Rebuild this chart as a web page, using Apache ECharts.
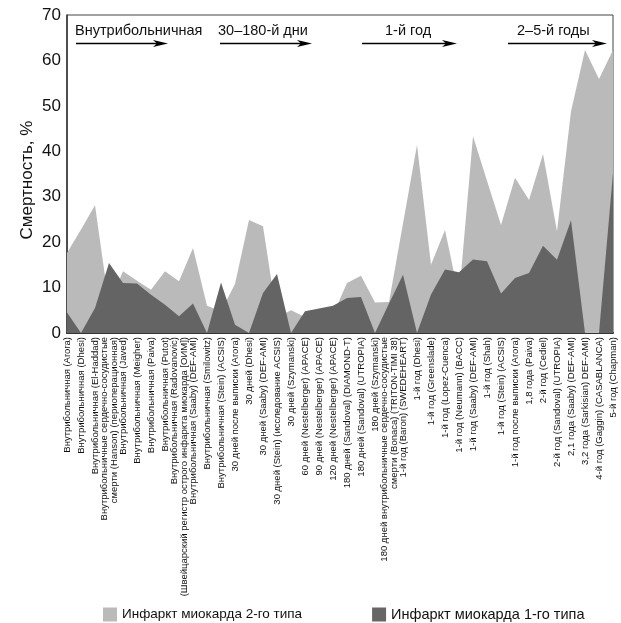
<!DOCTYPE html>
<html>
<head>
<meta charset="utf-8">
<script src="https://cdn.jsdelivr.net/npm/echarts@6/dist/echarts.min.js"></script>
<style>
html,body{margin:0;padding:0;background:#fff;}
#chart{width:621px;height:623px;}
</style>
</head>
<body>
<div id="chart"></div>
<script>
const categories = [
  "Внутрибольничная (Arora)",
  "Внутрибольничная (Dhesi)",
  "Внутрибольничная (El-Haddad)",
  "Внутрибольничные сердечно-сосудистые\nсмерти (Hanson) (периоперационная)",
  "Внутрибольничная (Javed)",
  "Внутрибольничная (Meigher)",
  "Внутрибольничная (Paiva)",
  "Внутрибольничная (Putot)",
  "Внутрибольничная (Radovanovic)\n(Швейцарский регистр острого инфаркта миокарда [ОИМ])",
  "Внутрибольничная (Saaby) (DEF-AMI)",
  "Внутрибольничная (Smilowitz)",
  "Внутрибольничная (Stein) (ACSIS)",
  "30 дней после выписки (Arora)",
  "30 дней (Dhesi)",
  "30 дней (Saaby) (DEF-AMI)",
  "30 дней (Stein) (исследование ACSIS)",
  "30 дней (Szymanski)",
  "60 дней (Nestelberger) (APACE)",
  "90 дней (Nestelberger) (APACE)",
  "120 дней (Nestelberger) (APACE)",
  "180 дней (Sandoval) (DIAMOND-T)",
  "180 дней (Sandoval) (UTROPIA)",
  "180 дней (Szymanski)",
  "180 дней внутрибольничные сердечно-сосудистые\nсмерти (Bonaca) (TRITON-TIMI 38)",
  "1-й год (Baron) (SWEDEHEART)",
  "1-й год (Dhesi)",
  "1-й год (Greenslade)",
  "1-й год (Lopez-Cuenca)",
  "1-й год (Neumann) (BACC)",
  "1-й год (Saaby) (DEF-AMI)",
  "1-й год (Shah)",
  "1-й год (Stein) (ACSIS)",
  "1-й год после выписки (Arora)",
  "1,8 года (Paiva)",
  "2-й год (Cediel)",
  "2-й год (Sandoval) (UTROPIA)",
  "2,1 года (Saaby) (DEF-AMI)",
  "3,2 года (Sarkisian) DEF-AMI)",
  "4-й год (Gaggin) (CASABLANCA)",
  "5-й год (Chapman)"
];

const type2Values = [17.6, 22.8, 28.1, 6.2, 13.6, 11.5, 9.5, 13.6, 11.4, 18.7,
  6.0, 4.8, 10.8, 24.9, 23.5, 3.4, 5.0, 3.5, 4.0, 4.0,
  11.0, 12.6, 6.7, 6.8, 24.1, 41.4, 15.0, 22.7, 8.0, 43.3,
  33.5, 23.8, 34.2, 29.3, 39.4, 22.4, 48.8, 62.3, 55.9, 62.3];

const type1Values = [4.5, 0, 5.5, 15.4, 11.0, 10.9, 8.4, 6.2, 3.7, 6.5,
  0, 11.1, 1.8, 0, 8.8, 13.0, 0, 4.8, 5.4, 6.0,
  7.7, 7.9, 0, 6.5, 12.8, 0, 8.5, 14.0, 13.4, 16.2,
  15.8, 8.7, 12.1, 13.2, 19.2, 16.1, 24.8, 0, 0, 35.2];

const seriesNames = ["Инфаркт миокарда 2-го типа", "Инфаркт миокарда 1-го типа"];
const yTicks = {min: 0, max: 70, interval: 10};
const yAxisTitle = "Смертность, %";
const periodLabels = ["Внутрибольничная", "30–180-й дни", "1-й год", "2–5-й годы"];

const FONT = "'Liberation Sans', Arial, Helvetica, sans-serif";

// annotation layout (pixels)
const periodText = [{x: 75, y: 31}, {x: 218, y: 31}, {x: 385, y: 31}, {x: 517, y: 31}];
const periodArrow = [[76, 168], [220, 312], [362, 457], [508, 607]];
const ARROW_Y = 43.5;

const graphics = [];
periodLabels.forEach((t, i) => {
  graphics.push({
    type: 'text', z: 100,
    style: {text: t, x: periodText[i].x, y: periodText[i].y, font: '14.5px ' + FONT, fill: '#111', verticalAlign: 'middle'}
  });
  const x1 = periodArrow[i][0], x2 = periodArrow[i][1];
  graphics.push({
    type: 'line', z: 100,
    shape: {x1: x1, y1: ARROW_Y, x2: x2 - 8, y2: ARROW_Y},
    style: {stroke: '#000', lineWidth: 1.5}
  });
  graphics.push({
    type: 'polygon', z: 100,
    shape: {points: [[x2, ARROW_Y], [x2 - 15, ARROW_Y - 3.5], [x2 - 11, ARROW_Y], [x2 - 15, ARROW_Y + 3.5]]},
    style: {fill: '#000'}
  });
});
// y-axis title
graphics.push({
  type: 'text', z: 100, x: 27.5, y: 180, rotation: Math.PI / 2,
  style: {text: yAxisTitle, x: 0, y: 0, font: '17px ' + FONT, fill: '#111', align: 'center', verticalAlign: 'middle'}
});

const chart = echarts.init(document.getElementById('chart'), null, {renderer: 'canvas'});
chart.setOption({
  animation: false,
  backgroundColor: '#fff',
  grid: {left: 67, right: 8, top: 15, bottom: 290, show: true, borderColor: '#444', borderWidth: 1, backgroundColor: 'transparent'},
  legend: {
    data: [
      {name: seriesNames[0], textStyle: {fontSize: 13.5}},
      {name: seriesNames[1], textStyle: {fontSize: 14.5}}
    ],
    left: 98, top: 602,
    icon: 'rect', itemWidth: 14, itemHeight: 14, itemGap: 70,
    textStyle: {fontSize: 13.5, color: '#111', fontFamily: FONT}
  },
  xAxis: {
    type: 'category',
    data: categories,
    boundaryGap: false,
    axisLine: {lineStyle: {color: '#333', width: 2}},
    axisTick: {show: false},
    axisLabel: {
      interval: 0, rotate: 90, margin: 4,
      fontSize: 9.5, lineHeight: 10, color: '#111', fontFamily: FONT
    },
    splitLine: {show: false}
  },
  yAxis: {
    type: 'value',
    min: yTicks.min, max: yTicks.max, interval: yTicks.interval,
    axisLine: {show: true, lineStyle: {color: '#333', width: 1.5}},
    axisTick: {show: false},
    axisLabel: {fontSize: 17, color: '#111', fontFamily: FONT, margin: 6},
    splitLine: {show: false}
  },
  graphic: graphics,
  series: [
    {
      name: seriesNames[0], type: 'line', data: type2Values,
      symbol: 'none', lineStyle: {width: 0},
      itemStyle: {color: '#bababa'},
      areaStyle: {color: '#bababa', opacity: 1}, z: 2
    },
    {
      name: seriesNames[1], type: 'line', data: type1Values,
      symbol: 'none', lineStyle: {width: 0},
      itemStyle: {color: '#666666'},
      areaStyle: {color: '#646464', opacity: 1}, z: 3
    }
  ]
});
</script>
</body>
</html>
